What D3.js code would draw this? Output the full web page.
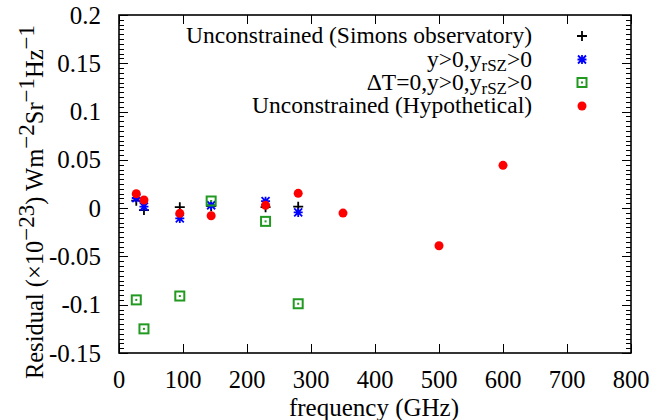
<!DOCTYPE html>
<html><head><meta charset="utf-8">
<script src="https://cdn.jsdelivr.net/npm/d3@7"></script>
<style>
html,body{margin:0;padding:0;background:#fff;}
svg text{font-family:"Liberation Serif","Times New Roman",serif;fill:#000;}
</style></head>
<body>
<svg id="c" width="671" height="420"></svg>
<script>
// ---- data ----
const soFreq = [27, 39, 95, 144, 229, 280];
const simons = [0.0077, -0.002, 0.001, 0.002, 0.001, 0.0015];
const positive = [0.0105, 0.0015, -0.0106, 0.003, 0.0072, -0.0044];
const dtZero = [-0.095, -0.125, -0.091, 0.0074, -0.0137, -0.099];
const hypoFreq = [27, 39, 95, 144, 229, 280, 350, 500, 600];
const hypothetical = [0.0149, 0.0084, -0.0054, -0.0079, 0.0029, 0.0153, -0.0051, -0.039, 0.0443];
const xTicks = [0, 100, 200, 300, 400, 500, 600, 700, 800];
const yTicks = [-0.15, -0.1, -0.05, 0, 0.05, 0.1, 0.15, 0.2];
const yTickLabels = ["-0.15", "-0.1", "-0.05", "0", "0.05", "0.1", "0.15", "0.2"];

const svg = d3.select("#c");
const L = 119, R = 631, T = 15, B = 353;
const x = d3.scaleLinear().domain([0, 800]).range([L, R]);
const y = d3.scaleLinear().domain([-0.15, 0.2]).range([B, T]);
const FS = 25, LFS = 23.5;

const yMinor = d3.range(-150, 201, 5).map(v => v / 1000).filter(v => !yTicks.some(t => Math.abs(t - v) < 1e-9));
const g = svg.append("g");
function hline(sel, data, x1, x2) {
  sel.selectAll(null).data(data).enter().append("line")
    .attr("x1", x1).attr("x2", x2).attr("y1", d => Math.round(y(d)) + 0.5).attr("y2", d => Math.round(y(d)) + 0.5)
    .attr("stroke", "#000").attr("stroke-width", 1);
}
hline(g, yMinor, L, L + 5);
hline(g, yMinor, R, R - 5);
hline(g, yTicks, L, L + 9);
hline(g, yTicks, R, R - 9);
function vline(sel, data, y1, y2) {
  sel.selectAll(null).data(data).enter().append("line")
    .attr("x1", d => Math.round(x(d)) + 0.5).attr("x2", d => Math.round(x(d)) + 0.5).attr("y1", y1).attr("y2", y2)
    .attr("stroke", "#000").attr("stroke-width", 1);
}
vline(g, xTicks, B, B - 9);
vline(g, xTicks, T, T + 9);

svg.append("rect").attr("x", L).attr("y", T).attr("width", R - L).attr("height", B - T)
  .attr("fill", "none").attr("stroke", "#000").attr("stroke-width", 1.6);

// tick labels
svg.selectAll(".xl").data(xTicks).enter().append("text")
  .attr("x", d => x(d)).attr("y", 388).attr("text-anchor", "middle").attr("font-size", FS - 0.5).text(d => d);
svg.selectAll(".yl").data(yTicks).enter().append("text")
  .attr("x", 101).attr("y", d => y(d) + 8.5).attr("text-anchor", "end").attr("font-size", FS).text((d, i) => yTickLabels[i]);

// axis titles
svg.append("text").attr("x", 374).attr("y", 416).attr("text-anchor", "middle").attr("font-size", FS).text("frequency (GHz)");
const YF = 24.5, SF = 23;
const yl = svg.append("text").attr("transform", "translate(43,202) rotate(-90)").attr("text-anchor", "middle").attr("font-size", YF);
function sup(t, s) { t.append("tspan").attr("dy", -9).attr("font-size", SF).text(s); }
function base(t, s) { t.append("tspan").attr("dy", 9).text(s); }
yl.append("tspan").text("Residual (\u00d710");
sup(yl, "\u221223"); base(yl, ") Wm");
sup(yl, "\u22122"); base(yl, "Sr");
sup(yl, "\u22121"); base(yl, "Hz");
sup(yl, "\u22121");

// markers
function plus(sel, cx, cy, col) {
  sel.append("path").attr("d", `M${cx - 5},${cy}H${cx + 5}M${cx},${cy - 5}V${cy + 5}`)
    .attr("stroke", col).attr("stroke-width", 1.8).attr("fill", "none");
}
function star(sel, cx, cy, col) {
  sel.append("path").attr("d", `M${cx - 4.5},${cy}H${cx + 4.5}M${cx},${cy - 4.5}V${cy + 4.5}M${cx - 4},${cy - 4}L${cx + 4},${cy + 4}M${cx - 4},${cy + 4}L${cx + 4},${cy - 4}`)
    .attr("stroke", col).attr("stroke-width", 1.8).attr("fill", "none");
}
function box(sel, cx, cy, col) {
  sel.append("rect").attr("x", cx - 4.5).attr("y", cy - 4.5).attr("width", 9).attr("height", 9)
    .attr("fill", "none").attr("stroke", col).attr("stroke-width", 2);
  sel.append("rect").attr("x", cx - 1).attr("y", cy - 1).attr("width", 2).attr("height", 2).attr("fill", col);
}
function dot(sel, cx, cy, col) {
  sel.append("circle").attr("cx", cx).attr("cy", cy).attr("r", 4.5).attr("fill", col);
}
const BLUE = "#0000ff", GREEN = "#229a22", RED = "#ff0000";
const pts = svg.append("g");
soFreq.forEach((f, i) => plus(pts, x(f), y(simons[i]), "#000"));
soFreq.forEach((f, i) => star(pts, x(f), y(positive[i]), BLUE));
soFreq.forEach((f, i) => box(pts, x(f), y(dtZero[i]), GREEN));
hypoFreq.forEach((f, i) => dot(pts, x(f), y(hypothetical[i]), RED));

// legend
const legY = [36, 59.5, 82.5, 106];
const legX = 532, mkX = 582;
const lg = svg.append("g");
function legText(yy) { return lg.append("text").attr("x", legX).attr("y", yy + 7).attr("text-anchor", "end").attr("font-size", LFS); }
legText(legY[0]).text("Unconstrained (Simons observatory)");
let t1 = legText(legY[1]);
t1.append("tspan").text("y>0,y");
t1.append("tspan").attr("dy", 4).attr("font-size", 17).text("rSZ");
t1.append("tspan").attr("dy", -4).text(">0");
let t2 = legText(legY[2]);
t2.append("tspan").text("\u0394T=0,y>0,y");
t2.append("tspan").attr("dy", 4).attr("font-size", 17).text("rSZ");
t2.append("tspan").attr("dy", -4).text(">0");
legText(legY[3]).text("Unconstrained (Hypothetical)");
plus(lg, mkX, legY[0], "#000");
star(lg, mkX, legY[1], BLUE);
box(lg, mkX, legY[2], GREEN);
dot(lg, mkX, legY[3], RED);
</script>
</body></html>
